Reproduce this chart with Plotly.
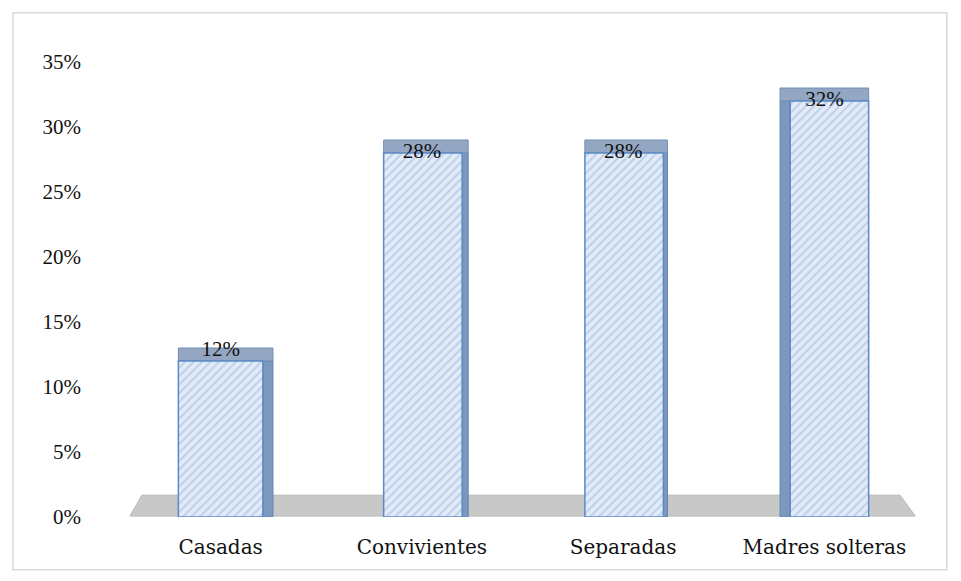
import plotly.graph_objects as go

categories = ["Casadas", "Convivientes", "Separadas", "Madres solteras"]
values = [0.12, 0.28, 0.28, 0.32]
labels = ["12%", "28%", "28%", "32%"]
tick_vals = [0, 0.05, 0.10, 0.15, 0.20, 0.25, 0.30, 0.35]
tick_text = ["0%", "5%", "10%", "15%", "20%", "25%", "30%", "35%"]

NUM_FONT = "Liberation Serif"
CAT_FONT = "DejaVu Serif"

# per-bar 3D side geometry (style only)
front_offset = [-0.21, -0.19, -0.19, -0.17]
front_width = [0.42, 0.39, 0.39, 0.39]
side_offset = [0.21, 0.20, 0.20, -0.22]
side_width = [0.05, 0.03, 0.02, 0.05]
cap = [0.01] * 4
label_pos = ["top center", "middle center", "middle center", "middle center"]

fig = go.Figure()

# side faces
fig.add_trace(go.Bar(
    x=categories, y=values, width=side_width, offset=side_offset,
    marker=dict(color="#7d98bd", line=dict(color="#5b82b5", width=1)),
    hoverinfo="skip", showlegend=False,
))
# top caps
fig.add_trace(go.Bar(
    x=categories, y=cap, base=values,
    width=[fw + sw for fw, sw in zip(front_width, side_width)],
    offset=[min(fo, so) for fo, so in zip(front_offset, side_offset)],
    marker=dict(color="#94a7c2", line=dict(color="#6f8db5", width=1)),
    hoverinfo="skip", showlegend=False,
))
# front faces
fig.add_trace(go.Bar(
    x=categories, y=values, width=front_width, offset=front_offset,
    marker=dict(
        color="#c9d9f0",
        line=dict(color="#5b8ac6", width=1.5),
        pattern=dict(shape="/", fgcolor="#9db4d8", bgcolor="#e2ebf8", size=6, solidity=0.35),
    ),
    showlegend=False,
))
# value labels
fig.add_trace(go.Scatter(
    x=categories, y=values, mode="text", text=labels,
    textposition=label_pos,
    textfont=dict(family=NUM_FONT, size=21, color="#111111"),
    cliponaxis=False, hoverinfo="skip", showlegend=False,
))

fig.update_layout(
    width=961, height=581,
    paper_bgcolor="white", plot_bgcolor="white",
    margin=dict(l=112, r=44, t=54, b=72),
    barmode="overlay",
    font=dict(family=NUM_FONT, size=21, color="#111111"),
    xaxis=dict(showgrid=False, showline=False, zeroline=False, ticks="",
               automargin=False, ticklabelstandoff=16,
               tickfont=dict(family=CAT_FONT, size=20, color="#111111")),
    yaxis=dict(range=[0, 0.35], tickvals=tick_vals, ticktext=tick_text,
               showgrid=False, showline=False, zeroline=False, ticks="",
               automargin=False,
               tickfont=dict(family=NUM_FONT, size=21), ticklabelstandoff=38),
    shapes=[
        # floor
        dict(type="path", xref="paper", yref="paper", layer="below",
             path="M 0.0124 0.002 L 0.027 0.048 L 0.969 0.048 L 0.988 0.002 Z",
             fillcolor="#c8c8c8", line=dict(color="#b8b8b8", width=1)),
        # outer border
        dict(type="rect", xref="paper", yref="paper",
             x0=-0.133, y0=-0.116, x1=1.027, y1=1.108,
             line=dict(color="#d9d9d9", width=1.5)),
    ],
)

fig.write_html("out.html")
